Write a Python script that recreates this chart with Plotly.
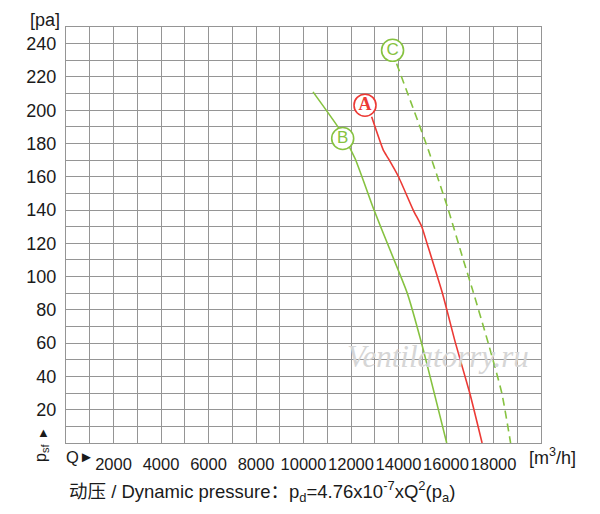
import plotly.graph_objects as go

# airflow [m3/h] vs static pressure [pa]
a_q = [12870, 13360, 13570, 14000, 14620, 14980, 15200, 15850, 16400, 17000, 17520]
a_p = [196, 176, 171, 160, 140, 130, 120, 90, 60, 30, 0]

b_q = [10400, 11540, 12170, 12970, 13530, 14370, 14970, 16030]
b_p = [211, 188, 171, 140, 120, 90, 60, 0]

c_q = [13920, 15260, 16100, 16730, 17120, 17780, 18350, 18720]
c_p = [228, 176, 140, 110, 92, 60, 30, 0]

# curve label circles
labels = ["A", "B", "C"]
label_q = [12590, 11650, 13750]
label_p = [203, 183, 236]

x_ticks = list(range(2000, 18001, 2000))
x_labels = [str(v) for v in x_ticks]
y_ticks = list(range(20, 241, 20))
y_labels = [str(v) for v in y_ticks]

RED = "#ec3a35"
GREEN = "#86c240"
GRID = "#959595"
FONT = "Liberation Sans, Arial, Noto Sans CJK SC, sans-serif"

# page has an 8px body margin, so the figure is laid out in page coords minus 8
OFF = 8
W, H = 600 - 2 * OFF, 514 - 2 * OFF
L, T = 66 - OFF, 27 - OFF
PW, PH = 475, 416
R, B = W - L - PW, H - T - PH


def px(x):
    return (x - OFF - L) / PW


def py(y):
    return (T + PH - (y - OFF)) / PH


fig = go.Figure()
fig.add_trace(go.Scatter(x=a_q, y=a_p, mode="lines",
                         line=dict(color=RED, width=1.6, shape="spline", smoothing=0.5)))
fig.add_trace(go.Scatter(x=b_q, y=b_p, mode="lines",
                         line=dict(color=GREEN, width=1.6, shape="spline", smoothing=0.5)))
fig.add_trace(go.Scatter(x=c_q, y=c_p, mode="lines",
                         line=dict(color=GREEN, width=1.6, dash="8px,5px",
                                   shape="spline", smoothing=0.5)))

# watermark
fig.add_annotation(x=px(438), y=py(356), xref="paper", yref="paper",
                   text="Ventilatorry.ru", showarrow=False,
                   font=dict(family="Liberation Serif", size=31, color="#d6d6d6", style="italic"),
                   xanchor="center", yanchor="middle")

label_colors = [RED, GREEN, GREEN]
label_fonts = ["Liberation Serif", FONT, FONT]
for name, q, p, col, fam in zip(labels, label_q, label_p, label_colors, label_fonts):
    fig.add_trace(go.Scatter(
        x=[q], y=[p], mode="markers+text", text=[name], textposition="middle center",
        textfont=dict(color=col, size=17 if name != "A" else 18, family=fam,
                      weight="bold" if name == "A" else "normal"),
        marker=dict(symbol="circle", size=22, color="white", line=dict(color=col, width=1.6)),
    ))

axis_style = dict(showgrid=True, gridcolor=GRID, gridwidth=1.4, zeroline=False, showline=True,
                  linecolor=GRID, linewidth=1.4, mirror=True, ticks="", automargin=False,
                  tickangle=0)
fig.update_xaxes(range=[0, 20000], tickvals=x_ticks, ticktext=x_labels, ticklabelstandoff=6,
                 minor=dict(dtick=1000, tick0=0, showgrid=True, gridcolor=GRID, gridwidth=1.4),
                 tickfont=dict(family=FONT, size=16.5, color="#1a1a1a"), **axis_style)
fig.update_yaxes(range=[0, 250], tickvals=y_ticks, ticktext=y_labels, ticklabelstandoff=5,
                 minor=dict(dtick=10, tick0=0, showgrid=True, gridcolor=GRID, gridwidth=1.4),
                 tickfont=dict(family=FONT, size=18, color="#1a1a1a"), **axis_style)

notes = [
    dict(x=px(62), y=py(20), text="[pa]", xanchor="right", size=18),
    dict(x=px(64), y=py(457), text="Q", xanchor="left", size=16.5),
    dict(x=px(86), y=py(456), text="►", xanchor="center", size=15),
    dict(x=px(527), y=py(456), text="[m<sup>3</sup>/h]", xanchor="left", size=18),
    dict(x=px(43), y=py(432), text="▲", xanchor="center", size=13),
    dict(x=px(67), y=py(492),
         text="动压 / Dynamic pressure：p<sub>d</sub>=4.76x10<sup>-7</sup>xQ<sup>2</sup>(p<sub>a</sub>)",
         xanchor="left", size=18.5),
]
for n in notes:
    fig.add_annotation(x=n["x"], y=n["y"], xref="paper", yref="paper", text=n["text"],
                       showarrow=False, xanchor=n["xanchor"], yanchor="middle",
                       font=dict(family=FONT, size=n["size"], color="#1a1a1a"))
fig.add_annotation(x=px(42), y=py(453), xref="paper", yref="paper", text="p<sub>sf</sub>",
                   showarrow=False, textangle=-90, xanchor="center", yanchor="middle",
                   font=dict(family=FONT, size=16, color="#1a1a1a"))

fig.update_layout(width=W, height=H, margin=dict(l=L, r=R, t=T, b=B),
                  paper_bgcolor="white", plot_bgcolor="white", showlegend=False)
fig.write_html("out.html")
